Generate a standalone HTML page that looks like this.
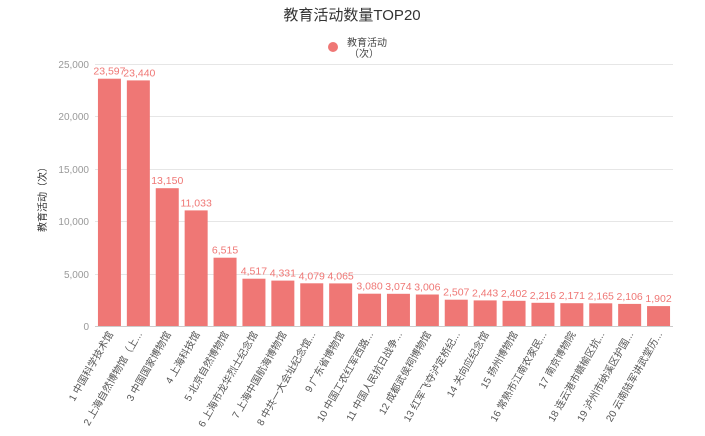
<!DOCTYPE html>
<html><head><meta charset="utf-8"><style>body{margin:0;background:#fff}svg{display:block}text{font-family:"Liberation Sans","Noto Sans CJK SC",sans-serif}</style></head><body>
<svg width="705" height="436" viewBox="0 0 705 436">
<text x="352" y="20" text-anchor="middle" font-size="15" fill="#333">教育活动数量TOP20</text>
<circle cx="333" cy="47" r="5" fill="#ef7775"/>
<text x="347" y="46" font-size="10" fill="#444">教育活动</text>
<text x="349" y="57" font-size="10" fill="#444">（次）</text>
<text transform="translate(46,197) rotate(-90)" text-anchor="middle" font-size="10" fill="#333">教育活动（次）</text>
<g stroke="#e6e6e6" stroke-width="1">
<line x1="95" x2="673" y1="64.5" y2="64.5"/><line x1="95" x2="673" y1="116.5" y2="116.5"/><line x1="95" x2="673" y1="169.5" y2="169.5"/><line x1="95" x2="673" y1="221.5" y2="221.5"/><line x1="95" x2="673" y1="274.5" y2="274.5"/>
</g>
<g font-size="10" fill="#999" text-anchor="end">
<text x="89" y="68">25,000</text><text x="89" y="120">20,000</text><text x="89" y="173">15,000</text><text x="89" y="225">10,000</text><text x="89" y="278">5,000</text><text x="89" y="330">0</text>
</g>
<line x1="95" x2="673" y1="326.5" y2="326.5" stroke="#ccc"/>
<g fill="#ef7775">
<rect x="97.95" y="78.7" width="23" height="247.3"/>
<rect x="126.85" y="80.4" width="23" height="245.6"/>
<rect x="155.75" y="188.2" width="23" height="137.8"/>
<rect x="184.65" y="210.4" width="23" height="115.6"/>
<rect x="213.55" y="257.7" width="23" height="68.3"/>
<rect x="242.45" y="278.7" width="23" height="47.3"/>
<rect x="271.35" y="280.6" width="23" height="45.4"/>
<rect x="300.25" y="283.3" width="23" height="42.7"/>
<rect x="329.15" y="283.4" width="23" height="42.6"/>
<rect x="358.05" y="293.7" width="23" height="32.3"/>
<rect x="386.95" y="293.8" width="23" height="32.2"/>
<rect x="415.85" y="294.5" width="23" height="31.5"/>
<rect x="444.75" y="299.7" width="23" height="26.3"/>
<rect x="473.65" y="300.4" width="23" height="25.6"/>
<rect x="502.55" y="300.8" width="23" height="25.2"/>
<rect x="531.45" y="302.8" width="23" height="23.2"/>
<rect x="560.35" y="303.2" width="23" height="22.8"/>
<rect x="589.25" y="303.3" width="23" height="22.7"/>
<rect x="618.15" y="303.9" width="23" height="22.1"/>
<rect x="647.05" y="306.1" width="23" height="19.9"/>
</g>
<g fill="#ef7775" font-size="10.5" text-anchor="middle">
<text x="109.45" y="74.7">23,597</text>
<text x="139.35" y="76.4">23,440</text>
<text x="167.25" y="184.2">13,150</text>
<text x="196.15" y="206.4">11,033</text>
<text x="225.05" y="253.7">6,515</text>
<text x="253.95" y="274.7">4,517</text>
<text x="282.85" y="276.6">4,331</text>
<text x="311.75" y="279.3">4,079</text>
<text x="340.65" y="279.4">4,065</text>
<text x="369.55" y="289.7">3,080</text>
<text x="398.45" y="289.8">3,074</text>
<text x="427.35" y="290.5">3,006</text>
<text x="456.25" y="295.7">2,507</text>
<text x="485.15" y="296.4">2,443</text>
<text x="514.05" y="296.8">2,402</text>
<text x="542.95" y="298.8">2,216</text>
<text x="571.85" y="299.2">2,171</text>
<text x="600.75" y="299.3">2,165</text>
<text x="629.65" y="299.9">2,106</text>
<text x="658.55" y="302.1">1,902</text>
</g>
<g fill="#555" font-size="10" text-anchor="end">
<text transform="translate(113.45,334) rotate(-60)">1 中国科学技术馆</text>
<text transform="translate(142.35,334) rotate(-60)">2 上海自然博物馆（上...</text>
<text transform="translate(171.25,334) rotate(-60)">3 中国国家博物馆</text>
<text transform="translate(200.15,334) rotate(-60)">4 上海科技馆</text>
<text transform="translate(229.05,334) rotate(-60)">5 北京自然博物馆</text>
<text transform="translate(257.95,334) rotate(-60)">6 上海市龙华烈士纪念馆</text>
<text transform="translate(286.85,334) rotate(-60)">7 上海中国航海博物馆</text>
<text transform="translate(315.75,334) rotate(-60)">8 中共一大会址纪念馆...</text>
<text transform="translate(344.65,334) rotate(-60)">9 广东省博物馆</text>
<text transform="translate(373.55,334) rotate(-60)">10 中国工农红军西路...</text>
<text transform="translate(402.45,334) rotate(-60)">11 中国人民抗日战争...</text>
<text transform="translate(431.35,334) rotate(-60)">12 成都武侯祠博物馆</text>
<text transform="translate(460.25,334) rotate(-60)">13 红军飞夺泸定桥纪...</text>
<text transform="translate(489.15,334) rotate(-60)">14 关向应纪念馆</text>
<text transform="translate(518.05,334) rotate(-60)">15 扬州博物馆</text>
<text transform="translate(546.95,334) rotate(-60)">16 常熟市江南农家民...</text>
<text transform="translate(575.85,334) rotate(-60)">17 南京博物院</text>
<text transform="translate(604.75,334) rotate(-60)">18 连云港市赣榆区抗...</text>
<text transform="translate(633.65,334) rotate(-60)">19 泸州市纳溪区护国...</text>
<text transform="translate(662.55,334) rotate(-60)">20 云南陆军讲武堂历...</text>
</g>
</svg></body></html>
